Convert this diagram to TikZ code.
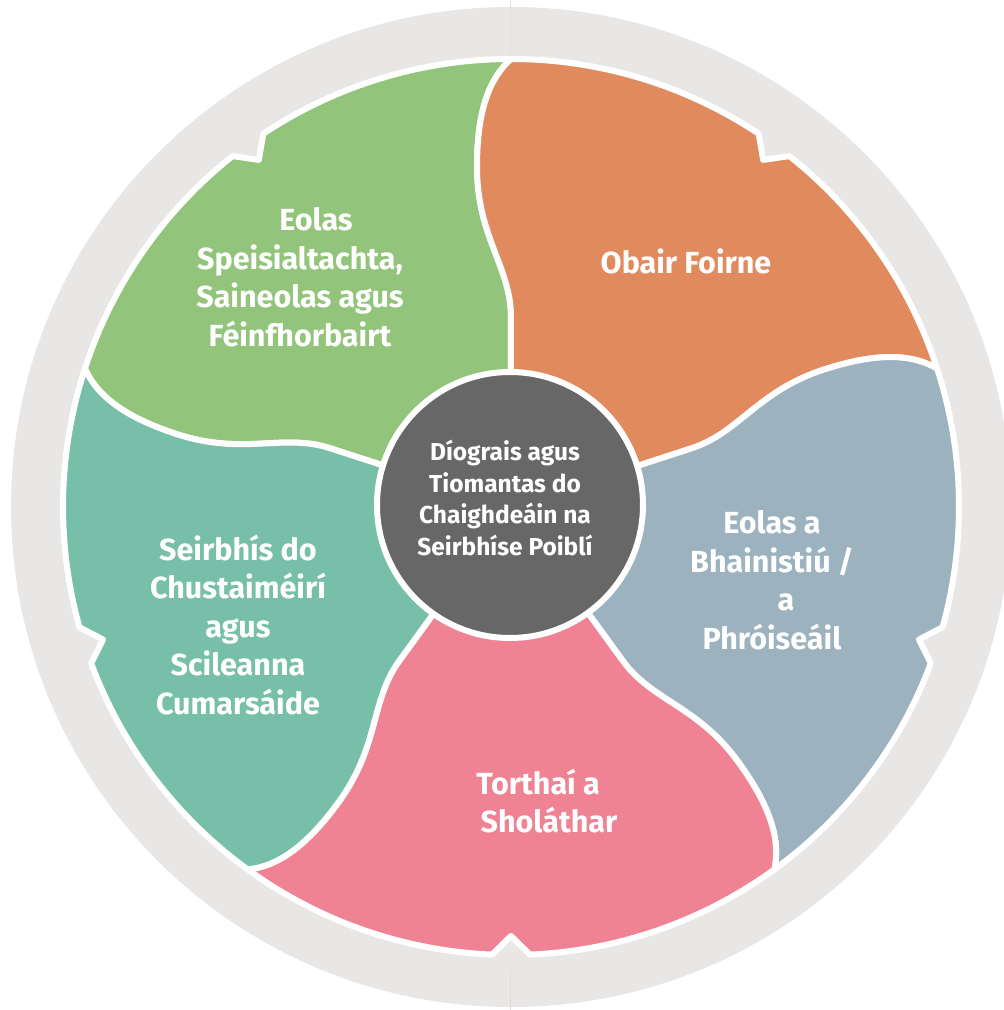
\documentclass[tikz,border=0pt]{standalone}
\usepackage{fontspec}
\setmainfont{Fira Sans}
\usepackage{tikz}
\newcommand*{\rRing}{500}
\newcommand*{\rOut}{448}
\newcommand*{\rNotch}{429}
\newcommand*{\labelFont}{\fontsize{30.5}{38.5}\selectfont\bfseries}
\newcommand*{\hubFont}{\fontsize{24.5}{31.4}\selectfont\bfseries}
\definecolor{ringGray}{HTML}{E8E7E6}
\definecolor{hubGray}{HTML}{666766}
\definecolor{petalGreen}{HTML}{93C47B}
\definecolor{petalOrange}{HTML}{E08A5E}
\definecolor{petalBlue}{HTML}{9CB2BE}
\definecolor{petalPink}{HTML}{F08393}
\definecolor{petalTeal}{HTML}{78BFA9}
\definecolor{seamGray}{HTML}{E6D8DB}
\begin{document}
\begin{tikzpicture}[x=1pt,y=1pt,
	petal/.style={fill=#1,draw=white,line width=6pt,line join=round},
	label/.style={text=white,align=center,font=\labelFont},
	hub/.style={circle,fill=hubGray,draw=white,line width=6pt,minimum size=266pt,inner sep=0pt}]
	\useasboundingbox (-511,-503) rectangle (493,507);
	\fill[ringGray] (0,0) circle (\rRing);
	\draw[seamGray,line width=0.8pt] (-1,-462) -- (-1,-503);
	\draw[ringGray!96!black,line width=0.4pt] (-1,507) -- (-1,452);
	\foreach \a/\col in {90/petalGreen,18/petalOrange,-54/petalBlue,-126/petalPink,-198/petalTeal} {
		\path[petal=\col] (0,0) -- (\a:190) .. controls (\a:240) and (\a+7.18:272.1) .. (\a+5.71:341.7)
			.. controls (\a+4.86:401.4) and (\a+2.66:430.5) .. (\a:\rOut)
			arc[start angle=\a, end angle=\a+33.57, radius=\rOut] -- (\a+36:\rNotch) -- (\a+38.43:\rOut)
			arc[start angle=\a+38.43, end angle=\a+72, radius=\rOut]
			.. controls (\a+74.66:430.5) and (\a+76.86:401.4) .. (\a+77.71:341.7)
			.. controls (\a+79.18:272.1) and (\a+72:240) .. (\a+72:190) -- cycle;
	}
	\node[hub] (hub) at (-1,2) {};
	\node[text=white,align=center,font=\hubFont] (hubText) at (-6,9) {Díograis agus\\Tiomantas do\\Chaighdeáin na\\Seirbhíse Poiblí};
	\node[label] (expertise) at (-211,230) {\hspace*{32pt}Eolas\\Speisialtachta,\\Saineolas agus\\Féinfhorbairt};
	\node[label] (teamwork) at (175,246) {Obair Foirne};
	\node[label] (management) at (261,-73) {Eolas a\\Bhainistiú /\\\hspace*{28pt}a\\Phróiseáil};
	\node[label] (delivery) at (34,-294) {Torthaí a\hspace*{14pt}\\\hspace*{8pt}Sholáthar};
	\node[label] (service) at (-273,-118) {Seirbhís do\\Chustaiméirí\\agus\\Scileanna\\Cumarsáide};
\end{tikzpicture}
\end{document}
